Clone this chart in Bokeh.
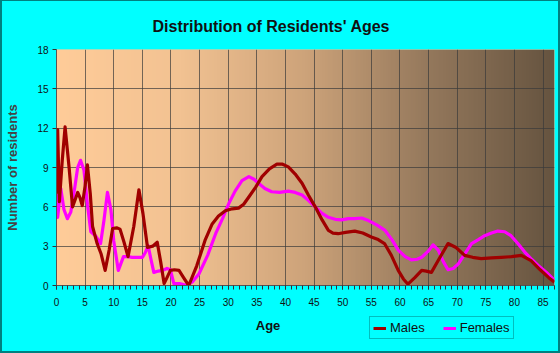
import numpy as np
from bokeh.plotting import figure
from bokeh.layouts import column
from bokeh.models import (SingleIntervalTicker, Label, Legend, LegendItem, Range1d)
from bokeh.embed import file_html
from bokeh.resources import INLINE

# ---- data ----
male_age = [0.0, 0.2, 0.5, 1.0, 1.5, 2.2, 2.8, 3.3, 3.7, 4.1, 4.5, 5.0, 5.4, 5.9, 6.3, 7.1, 7.8, 8.5, 9.2,
            9.8, 10.5, 11.1, 11.8, 12.5, 13.5, 14.4, 15.1, 15.9, 16.8, 17.6, 18.2, 18.8, 19.3, 19.9, 20.6,
            21.4, 22.2, 23.1, 24.5, 26.0, 27.2, 28.3, 29.5, 30.7, 31.8, 32.7, 33.6, 34.8, 35.9, 37.2,
            38.5, 39.5, 40.5, 41.7, 42.9, 44.0, 45.2, 46.4, 47.5, 48.3, 49.2, 50.5, 52.1, 53.5, 55.0,
            56.2, 57.3, 58.5, 59.7, 60.6, 61.4, 62.6, 63.8, 64.6, 65.5, 66.8, 68.4, 69.8, 71.3, 72.7,
            74.2, 76.0, 77.7, 79.5, 81.2, 82.9, 84.5, 86.0, 87.0]
male_val = [7.0, 11.9, 6.4, 9.5, 12.1, 9.0, 6.0, 6.6, 7.1, 6.7, 6.1, 7.6, 9.2, 7.0, 4.5, 3.2, 2.4, 1.15, 2.7,
            4.35, 4.4, 4.3, 3.3, 2.2, 4.5, 7.3, 5.5, 2.9, 3.0, 3.3, 1.8, 0.15, 0.6, 1.15, 1.2,
            1.15, 0.6, 0.0, 1.5, 3.5, 4.7, 5.3, 5.7, 5.85, 5.9, 6.2, 6.75, 7.5, 8.3, 8.9,
            9.25, 9.25, 9.05, 8.5, 7.8, 6.9, 6.0, 5.0, 4.2, 4.0, 3.95, 4.05, 4.15, 4.0, 3.7,
            3.5, 3.2, 2.3, 1.15, 0.5, 0.1, 0.6, 1.15, 1.1, 1.0, 2.0, 3.2, 2.9, 2.3, 2.15,
            2.05, 2.1, 2.15, 2.2, 2.3, 1.9, 1.2, 0.6, 0.25]

female_age = [0.0, 0.2, 0.75, 1.3, 1.9, 2.5, 3.2, 3.7, 4.2, 4.8, 5.4, 6.0, 6.8, 7.7, 8.3, 8.9, 9.5,
              10.0, 10.8, 11.7, 12.5, 13.2, 14.1, 15.0, 15.5, 16.0, 16.5, 17.0, 17.8, 18.5, 19.3,
              19.9, 20.5, 21.5, 22.8, 23.8, 24.9, 26.4, 27.8, 29.0, 30.1, 31.2, 32.4, 33.6, 34.5,
              35.3, 36.4, 37.6, 39.0, 40.5, 41.7, 42.9, 44.0, 45.2, 46.4, 47.5, 48.7, 49.8, 51.0,
              52.1, 53.3, 54.5, 56.0, 57.4, 58.6, 59.7, 60.9, 62.0, 63.0, 63.8, 64.9, 65.8, 66.7,
              67.6, 68.4, 69.3, 70.2, 71.3, 72.5, 73.7, 74.8, 76.0, 77.1, 78.3, 79.4, 80.6, 81.8,
              83.0, 84.1, 85.6, 87.0]
female_val = [7.0, 5.2, 7.4, 5.8, 5.1, 5.6, 7.5, 9.0, 9.55, 8.8, 6.2, 4.1, 3.8, 3.2, 5.0, 7.1, 5.8,
              3.4, 1.15, 2.2, 2.2, 2.15, 2.15, 2.15, 2.5, 3.05, 2.0, 1.0, 1.1, 1.15, 1.3,
              1.2, 0.15, 0.15, 0.0, 0.3, 0.9, 2.3, 3.95, 5.1, 6.25, 7.2, 8.0, 8.3, 8.1,
              7.8, 7.4, 7.15, 7.1, 7.2, 7.1, 6.9, 6.5, 6.0, 5.5, 5.2, 5.05, 5.0, 5.1,
              5.1, 5.15, 4.95, 4.6, 4.2, 3.5, 2.7, 2.2, 1.95, 2.0, 2.15, 2.6, 3.1, 2.7,
              1.8, 1.2, 1.3, 1.65, 2.4, 3.2, 3.5, 3.8, 4.0, 4.15, 4.1, 3.8, 3.2, 2.55,
              2.0, 1.55, 1.0, 0.4]

x_ticks_interval = 5
y_ticks_interval = 3
x_max = 87
y_max = 18

title_text = "Distribution of Residents' Ages"
x_label = "Age"
y_label = "Number of residents"
series_names = ["Males", "Females"]
series_colors = ["#A00000", "#FF00FF"]

FONT = "Liberation Sans"
CYAN = "#00FFFF"
TEAL = "#008080"

W = 556
H_MAIN = 308
H_BOTTOM = 42
BL, BR = 53, 4          # side borders shared by both strips
FW = W - BL - BR        # frame width in pixels

p = figure(width=W, height=H_MAIN, output_backend="svg", toolbar_location=None,
           x_range=Range1d(0, x_max), y_range=Range1d(0, y_max),
           min_border_left=BL, min_border_right=BR, min_border_top=48, min_border_bottom=24)
p.border_fill_color = CYAN
p.background_fill_color = "#FFCC99"
p.outline_line_color = None

# title
p.title.text = title_text
p.title.align = "left"
p.title.offset = 96
p.title.text_font = FONT
p.title.text_font_style = "bold"
p.title.text_font_size = "16px"
p.title.text_color = "#111111"
p.title.standoff = 29

# background gradient (horizontal)
stops = np.array([[0.0, 255, 204, 153], [0.25, 242, 194, 146], [0.5, 205, 163, 122],
                  [0.75, 148, 120, 92], [1.0, 102, 84, 64]])
n = 300
t = np.linspace(0, 1, n)
img = np.zeros((1, n), dtype=np.uint32)
view = img.view(dtype=np.uint8).reshape((1, n, 4))
for c in range(3):
    view[0, :, c] = np.interp(t, stops[:, 0], stops[:, c + 1]).astype(np.uint8)
view[0, :, 3] = 255
p.image_rgba(image=[img], x=0, y=0, dw=x_max, dh=y_max, level="image")

# grid
p.xgrid.ticker = SingleIntervalTicker(interval=x_ticks_interval)
p.ygrid.ticker = SingleIntervalTicker(interval=y_ticks_interval)
for g in (p.xgrid, p.ygrid):
    g.grid_line_color = "#3a3a3a"
    g.grid_line_alpha = 0.7
    g.grid_line_width = 1
    g.level = "underlay"

# axes
p.xaxis.ticker = SingleIntervalTicker(interval=x_ticks_interval, num_minor_ticks=5)
p.yaxis.ticker = SingleIntervalTicker(interval=y_ticks_interval, num_minor_ticks=0)
for ax in (p.xaxis, p.yaxis):
    ax.axis_line_color = "#555555"
    ax.major_tick_line_color = "#333333"
    ax.minor_tick_line_color = "#333333"
    ax.major_tick_out = 4
    ax.major_tick_in = 0
    ax.minor_tick_out = 4
    ax.minor_tick_in = 0
    ax.major_label_text_font = FONT
    ax.major_label_text_font_size = "10px"
    ax.major_label_text_color = "#111111"
    ax.axis_label_text_font = FONT
    ax.axis_label_text_font_style = "bold"
    ax.axis_label_text_font_size = "13px"
p.yaxis.minor_tick_line_color = None
p.xaxis.major_label_standoff = 8
p.yaxis.major_label_standoff = 4
p.yaxis.axis_label = y_label
p.yaxis.axis_label_standoff = 14

# lines
r_m = p.line(male_age, male_val, line_color=series_colors[0], line_width=3.2, line_join="round")
r_f = p.line(female_age, female_val, line_color=series_colors[1], line_width=3.2, line_join="round")
p.renderers = [p.renderers[0], r_f, r_m]

# bottom strip: x-axis title and legend (frame aligned with main plot)
b = figure(width=W, height=H_BOTTOM, output_backend="svg", toolbar_location=None,
           x_range=Range1d(0, FW), y_range=Range1d(0, H_BOTTOM),
           min_border_left=BL, min_border_right=BR, min_border_top=0, min_border_bottom=0,
           x_axis_type=None, y_axis_type=None)
b.border_fill_color = CYAN
b.background_fill_color = CYAN
b.outline_line_color = None
b.xgrid.visible = False
b.ygrid.visible = False
b.add_layout(Label(x=212, y=26, text=x_label,
                   text_font=FONT, text_font_style="bold", text_font_size="13px",
                   text_align="center", text_baseline="middle", text_color="#111111"))
lm = b.line([0], [0], line_color=series_colors[0], line_width=3)
lf = b.line([0], [0], line_color=series_colors[1], line_width=3)
legend = Legend(items=[LegendItem(label=series_names[0], renderers=[lm]),
                       LegendItem(label=series_names[1], renderers=[lf])],
                orientation="horizontal", location=(313, 12),
                background_fill_color=CYAN, background_fill_alpha=1,
                border_line_color=TEAL, border_line_width=1,
                label_text_font=FONT, label_text_font_size="13px",
                label_text_color="#111111",
                glyph_width=13, glyph_height=10, label_standoff=4, spacing=18,
                padding=3, margin=0)
b.add_layout(legend, "center")

inner = column(p, b, spacing=0)
inner.styles = {"background-color": CYAN}
outer = column(inner, spacing=0)
outer.styles = {"background-color": TEAL, "padding": "1px 2px 2px 2px"}

open("out.html", "w").write(file_html(outer, INLINE))
